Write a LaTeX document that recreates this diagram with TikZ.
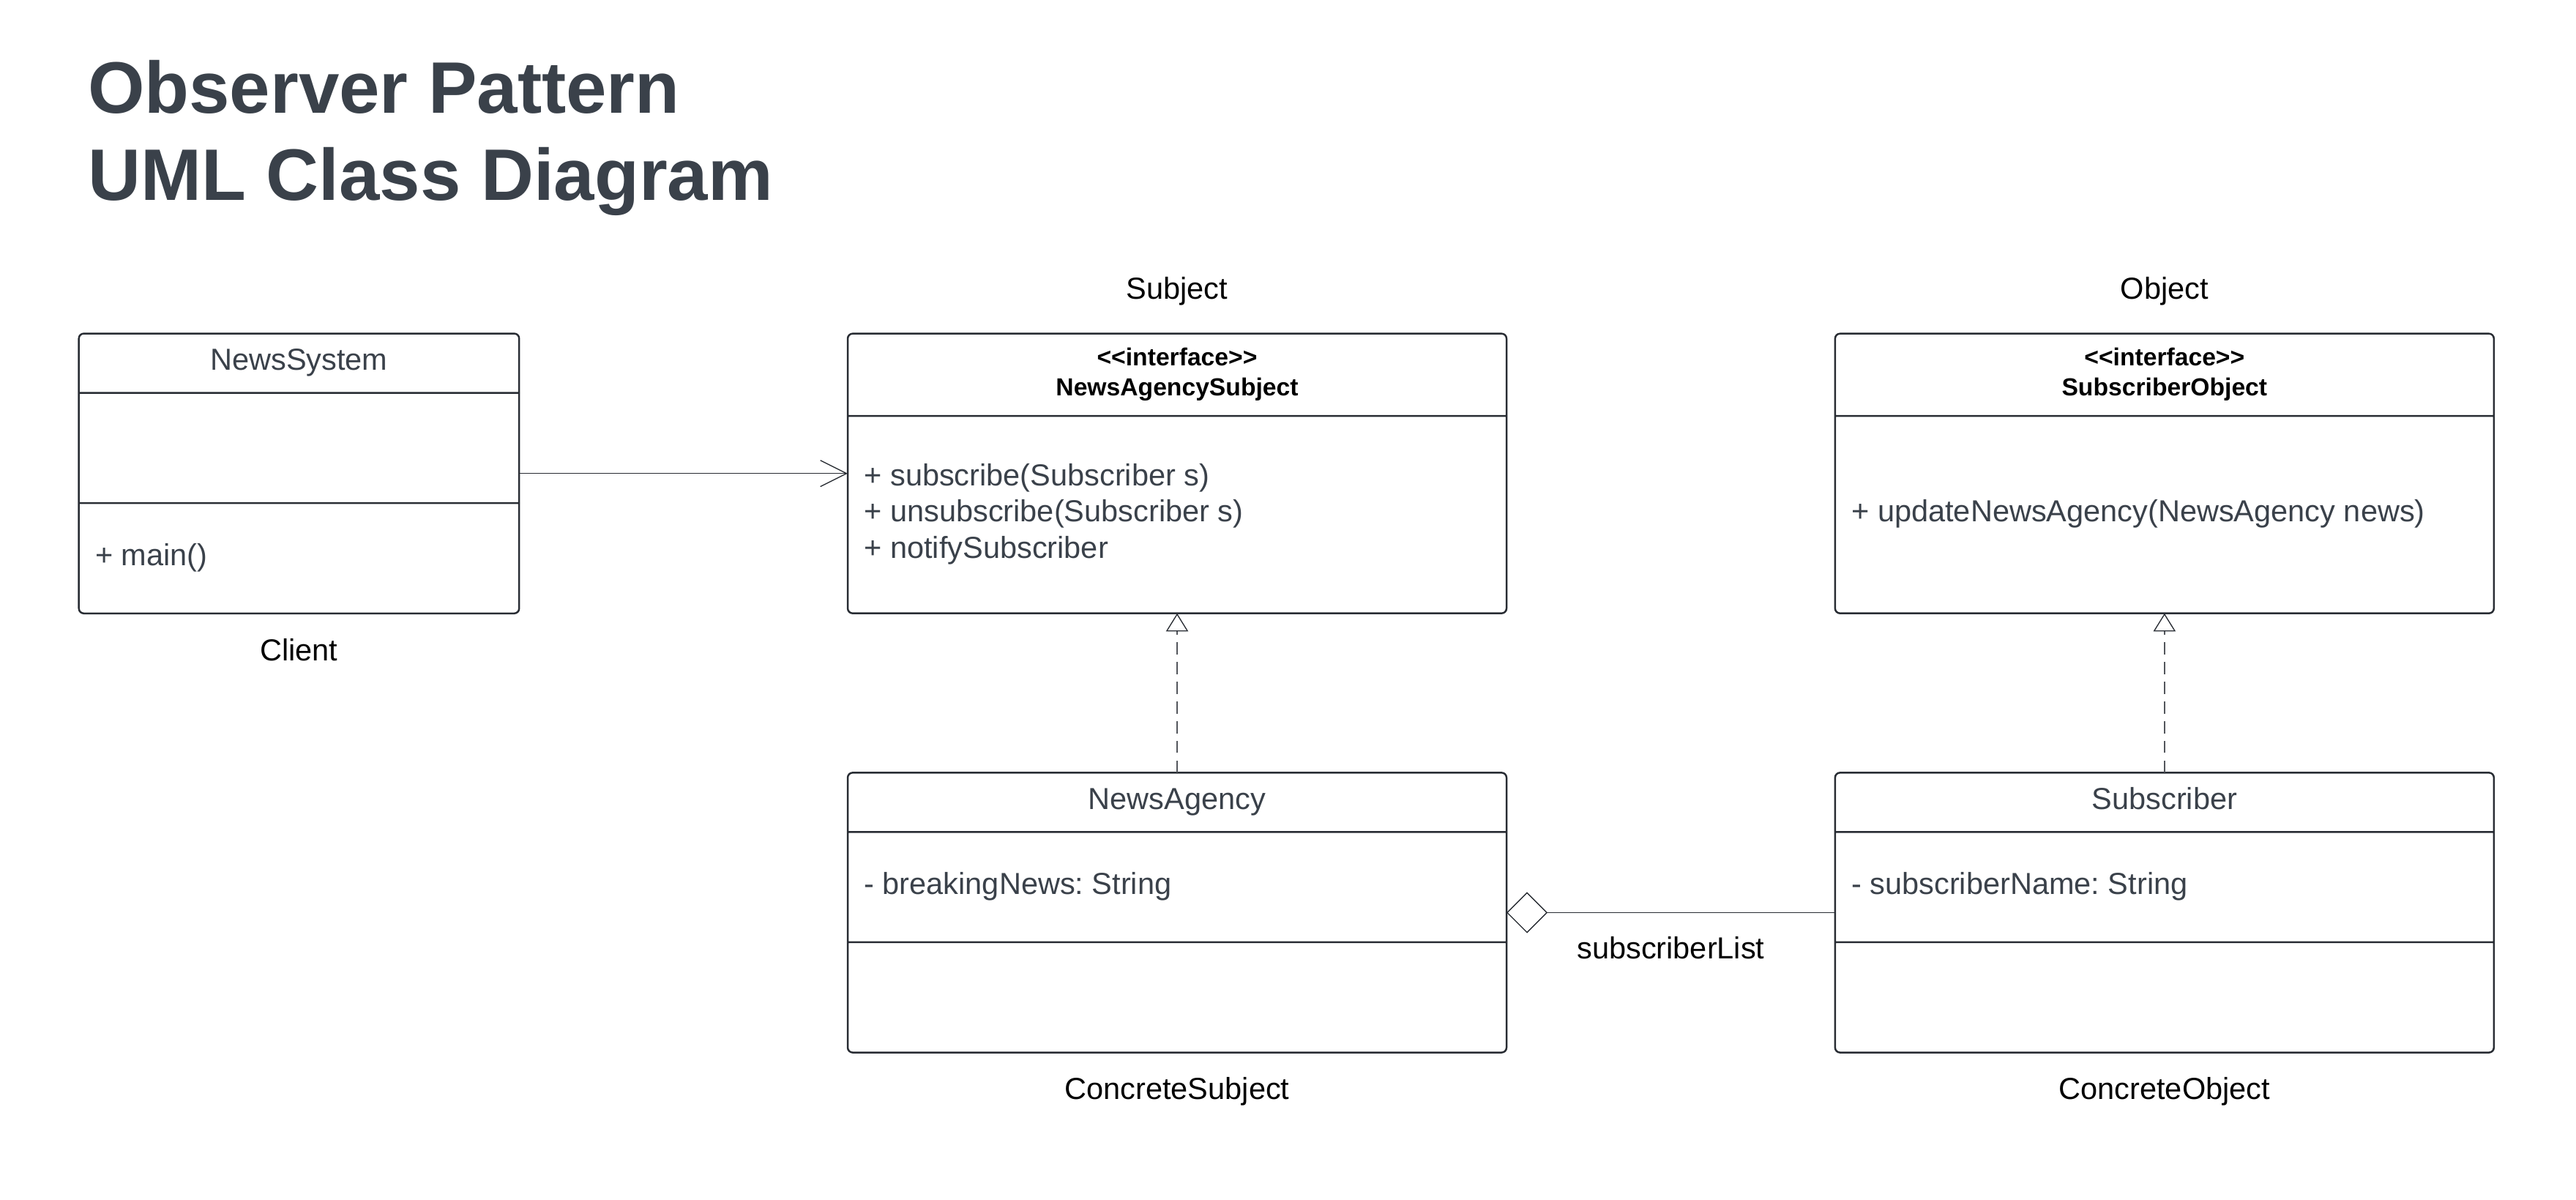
\documentclass[tikz,border=0pt]{standalone}
\usepackage{fontspec}
\setmainfont{Liberation Sans}
\usepackage{tikz}
\usetikzlibrary{shapes,positioning,calc}
\usetikzlibrary{arrows.meta}
\definecolor{umltext}{HTML}{3A414A}
\definecolor{umlline}{HTML}{282C33}
\newcommand{\cpart}[3]{\parbox[c][#1][c]{#2}{\centering\strut #3\strut}}
\newcommand{\lpart}[3]{\parbox[c][#1][c]{#2}{\raggedright\leftskip=10pt\relax\strut #3\strut}}
\newcommand{\hpart}[3]{\parbox[c][#1][c]{#2}{\centering\color{black}\fontsize{15}{18}\selectfont\bfseries\strut #3\strut}}
\tikzstyle{assoc} = [draw=umlline, line width=0.6pt, -{Straight Barb[length=16pt,width=16pt]}]
\tikzstyle{realize} = [draw=umlline!80, line width=0.6pt, dash pattern=on 7.5pt off 4.5pt, -{Triangle[open,length=11pt,width=13.5pt,color=umlline]}]
\tikzstyle{aggregate} = [draw=umlline, line width=0.6pt, -{Diamond[open,length=25pt,width=25pt]}]

\begin{document}
\begin{tikzpicture}[classbox/.style={rectangle split, rectangle split parts=#1, draw=umlline, line width=1.1pt, rounded corners=3pt, inner sep=0pt, outer sep=0pt, text=umltext, font=\fontsize{18.5}{22}\selectfont\frenchspacing}, tag/.style={inner sep=0pt, text height=13pt, text depth=4pt, font=\fontsize{18.5}{22}\selectfont}]

	\useasboundingbox (0,0) rectangle (1568pt,-730pt);

	% TITLE

	\node [anchor=base west, text=umltext, font=\fontsize{44.4}{53}\selectfont\bfseries] (title1) at (50pt,-69pt) {Observer Pattern};
	\node [anchor=base west, text=umltext, font=\fontsize{44.4}{53}\selectfont\bfseries] (title2) at (50pt,-122pt) {UML Class Diagram};

	% CLASSES

	\node [classbox=3, anchor=north west] (newssystem) at (48pt,-203pt)
	{%
		\nodepart{one}   \cpart{35pt}{268pt}{NewsSystem}
		\nodepart{two}   \cpart{66pt}{268pt}{}
		\nodepart{three} \lpart{66pt}{268pt}{+ main()}
	};

	\node [classbox=2, right=200pt of newssystem] (agencysubject)
	{%
		\nodepart{one} \hpart{49pt}{401pt}{<{}<interface>{}>\\ NewsAgencySubject}
		\nodepart{two} \lpart{119pt}{401pt}{+ subscribe(Subscriber s)\\ + unsubscribe(Subscriber s)\\ + notifySubscriber}
	};

	\node [classbox=2, right=200pt of agencysubject] (subscriberobject)
	{%
		\nodepart{one} \hpart{49pt}{401pt}{<{}<interface>{}>\\ SubscriberObject}
		\nodepart{two} \lpart{119pt}{401pt}{+ updateNewsAgency(NewsAgency news)}
	};

	\node [classbox=3, below=97pt of agencysubject] (newsagency)
	{%
		\nodepart{one}   \cpart{35pt}{401pt}{NewsAgency}
		\nodepart{two}   \lpart{66pt}{401pt}{- breakingNews: String}
		\nodepart{three} \cpart{66pt}{401pt}{}
	};

	\node [classbox=3, below=97pt of subscriberobject] (subscriber)
	{%
		\nodepart{one}   \cpart{35pt}{401pt}{Subscriber}
		\nodepart{two}   \lpart{66pt}{401pt}{- subscriberName: String}
		\nodepart{three} \cpart{66pt}{401pt}{}
	};

	% ROLES

	\node [tag, below=15.5pt of newssystem] (clientlbl) {Client};
	\node [tag, above=17pt of agencysubject] (subjectlbl) {Subject};
	\node [tag, above=17pt of subscriberobject] (objectlbl) {Object};
	\node [tag, below=15.5pt of newsagency] (concsubjectlbl) {ConcreteSubject};
	\node [tag, below=15.5pt of subscriber] (concobjectlbl) {ConcreteObject};

	% CONNECTORS

	\draw [assoc] (newssystem.east) -- (agencysubject.west);
	\draw [realize] (newsagency.north) -- (agencysubject.south);
	\draw [realize] (subscriber.north) -- (subscriberobject.south);
	\draw [aggregate] (subscriber.west) -- (newsagency.east) node [tag, midway, below=15pt] (listlbl) {subscriberList};

\end{tikzpicture}
\end{document}
